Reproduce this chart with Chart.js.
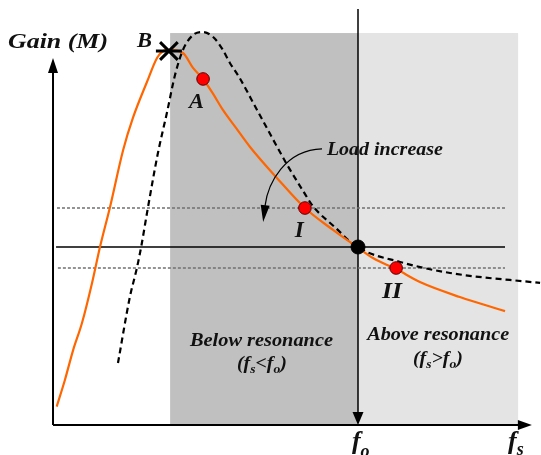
<!DOCTYPE html>
<html>
<head>
<meta charset="utf-8">
<script src="https://cdn.jsdelivr.net/npm/chart.js@4.4.1/dist/chart.umd.min.js"></script>
<style>
  html, body { margin: 0; padding: 0; background: #ffffff; }
  #wrap { width: 541px; height: 455px; position: relative; }
</style>
</head>
<body>
<div id="wrap"><canvas id="c" width="541" height="455"></canvas></div>
<script>
// ---- Data (x = fs/fo, y = gain M) ----
const lightLoadX = [0.012, 0.039, 0.066, 0.095, 0.128, 0.154, 0.187, 0.230, 0.262, 0.308, 0.341, 0.361, 0.377, 0.426, 0.459, 0.492, 0.525, 0.557, 0.600, 0.646, 0.734, 0.826, 0.918, 0.997, 1.049, 1.125, 1.203, 1.334, 1.482];
const lightLoadY = [0.103, 0.253, 0.421, 0.573, 0.798, 1.000, 1.225, 1.545, 1.725, 1.927, 2.062, 2.101, 2.107, 2.090, 2.006, 1.944, 1.860, 1.770, 1.669, 1.562, 1.388, 1.219, 1.096, 1.000, 0.938, 0.876, 0.803, 0.719, 0.640];

const heavyLoadX = [0.213, 0.252, 0.275, 0.289, 0.311, 0.344, 0.374, 0.400, 0.426, 0.459, 0.489, 0.525, 0.557, 0.580, 0.610, 0.669, 0.770, 0.820, 0.852, 0.925, 0.997, 1.138, 1.302, 1.597];
const heavyLoadY = [0.348, 0.719, 0.882, 1.000, 1.219, 1.528, 1.758, 1.966, 2.107, 2.191, 2.208, 2.180, 2.107, 2.034, 1.955, 1.770, 1.455, 1.315, 1.230, 1.110, 1.000, 0.916, 0.854, 0.798];

const operatingPointNames = ['A', 'I', 'II'];
const operatingPointX = [0.492, 0.826, 1.125];
const operatingPointY = [1.944, 1.219, 0.882];

const resonancePoint = [1.0, 1.0];      // (fo, M=1)
const peakPointB = [0.380, 2.101];

const refLevels = [1.219, 1.000, 0.882]; // dotted, solid, dotted
const refLevelStart = [0.013, 0.010, 0.016];
const refLevelEnd = 1.482;

const regionBelow = [0.384, 1.0];   // fs < fo
const regionAbove = [1.0, 1.525];   // fs > fo
const regionTop = 2.202;

const axisXEnd = 1.57;
const axisYEnd = 2.062;
const foLineTop = 2.337;

const textLabels = ['Gain (M)', 'B', 'A', 'I', 'II', 'Load increase', 'Below resonance', 'Above resonance'];

// ---- Build datasets ----
function pts(xs, ys) { return xs.map((x, i) => ({ x: x, y: ys[i] })); }

const orange = '#ff6600';
const datasets = [
  { label: 'points', data: pts(operatingPointX, operatingPointY), showLine: false,
    pointRadius: 6.3, pointBackgroundColor: '#ff0000', pointBorderColor: '#5a0000', pointBorderWidth: 1, order: 0 },
  { label: 'fo', data: [{ x: resonancePoint[0], y: resonancePoint[1] }], showLine: false,
    pointRadius: 7, pointBackgroundColor: '#000', pointBorderColor: '#000', order: 0 },
  { label: 'B1', data: [{ x: peakPointB[0], y: peakPointB[1] }], showLine: false, pointStyle: 'crossRot',
    pointRadius: 12.5, pointBorderColor: '#000', pointBorderWidth: 3, order: 0 },
  { label: 'B2', data: [{ x: peakPointB[0], y: peakPointB[1] }], showLine: false, pointStyle: 'line',
    pointRadius: 13, pointBorderColor: '#000', pointBorderWidth: 3, order: 0 },
  { label: 'light', data: pts(lightLoadX, lightLoadY), showLine: true, borderColor: orange, borderWidth: 2.2,
    pointRadius: 0, cubicInterpolationMode: 'monotone', order: 1 },
  { label: 'heavy', data: pts(heavyLoadX, heavyLoadY), showLine: true, borderColor: '#000', borderWidth: 2.2,
    borderDash: [6, 4], pointRadius: 0, cubicInterpolationMode: 'monotone', order: 1 },
];
refLevels.forEach((lv, i) => {
  datasets.push({
    label: 'lvl' + i, data: [{ x: refLevelStart[i], y: lv }, { x: refLevelEnd, y: lv }], showLine: true,
    borderColor: i === 1 ? '#000' : '#707070', borderWidth: i === 1 ? 1.3 : 1.5,
    borderDash: i === 1 ? [] : [3, 2], pointRadius: 0, order: 2
  });
});

// ---- Plugins ----
const FONT = '"Liberation Serif", "Times New Roman", serif';

function drawFit(ctx, text, x, y, size, targetW) {
  ctx.font = 'italic bold ' + size + 'px ' + FONT;
  const w = ctx.measureText(text).width;
  const sx = targetW ? targetW / w : 1;
  ctx.save(); ctx.translate(x, y); ctx.scale(sx, 1); ctx.fillText(text, 0, 0); ctx.restore();
}
function drawRich(ctx, parts, x, y, targetW) {
  let total = 0;
  parts.forEach(p => { ctx.font = 'italic bold ' + p.s + 'px ' + FONT; p.w = ctx.measureText(p.t).width; total += p.w; });
  const sx = targetW ? targetW / total : 1;
  ctx.save(); ctx.translate(x, y); ctx.scale(sx, 1);
  let cx = 0;
  parts.forEach(p => { ctx.font = 'italic bold ' + p.s + 'px ' + FONT; ctx.fillText(p.t, cx, p.dy || 0); cx += p.w; });
  ctx.restore();
}
function arrowHead(ctx, tipX, tipY, dirX, dirY, len, half) {
  const n = Math.hypot(dirX, dirY); dirX /= n; dirY /= n;
  const bx = tipX - dirX * len, by = tipY - dirY * len;
  ctx.beginPath();
  ctx.moveTo(tipX, tipY);
  ctx.lineTo(bx - dirY * half, by + dirX * half);
  ctx.lineTo(bx + dirY * half, by - dirX * half);
  ctx.closePath(); ctx.fill();
}

const backgroundPlugin = {
  id: 'bg',
  beforeDatasetsDraw(chart) {
    const { ctx, scales: { x, y } } = chart;
    const X = v => x.getPixelForValue(v), Y = v => y.getPixelForValue(v);
    ctx.save();
    ctx.fillStyle = '#c0c0c0';
    ctx.fillRect(X(regionBelow[0]), Y(regionTop), X(regionBelow[1]) - X(regionBelow[0]), Y(0) - Y(regionTop));
    ctx.fillStyle = '#e4e4e4';
    ctx.fillRect(X(regionAbove[0]), Y(regionTop), X(regionAbove[1]) - X(regionAbove[0]), Y(0) - Y(regionTop));
    // fo vertical line with arrow
    ctx.strokeStyle = '#000'; ctx.fillStyle = '#000';
    ctx.lineWidth = 1.5;
    ctx.beginPath(); ctx.moveTo(X(1), Y(foLineTop)); ctx.lineTo(X(1), Y(0) - 10); ctx.stroke();
    arrowHead(ctx, X(1), Y(0), 0, 1, 13, 5.5);
    // axes
    ctx.lineWidth = 2;
    ctx.beginPath(); ctx.moveTo(X(0), Y(0)); ctx.lineTo(X(0), Y(axisYEnd) + 10); ctx.stroke();
    arrowHead(ctx, X(0), Y(axisYEnd), 0, -1, 15, 5);
    ctx.beginPath(); ctx.moveTo(X(0), Y(0)); ctx.lineTo(X(axisXEnd) - 10, Y(0)); ctx.stroke();
    arrowHead(ctx, X(axisXEnd), Y(0), 1, 0, 14, 5);
    ctx.restore();
  },
  afterDatasetsDraw(chart) {
    const { ctx, scales: { x, y } } = chart;
    const X = v => x.getPixelForValue(v), Y = v => y.getPixelForValue(v);
    ctx.save();
    ctx.fillStyle = '#111'; ctx.textBaseline = 'alphabetic'; ctx.textAlign = 'left';
    drawFit(ctx, textLabels[0], X(-0.1475), Y(2.118), 22, 100);
    drawFit(ctx, textLabels[1], X(0.275), Y(2.124), 21, 15);
    drawFit(ctx, textLabels[2], X(0.446), Y(1.781), 21, 15);
    drawFit(ctx, textLabels[3], X(0.793), Y(1.056), 23, 9);
    drawFit(ctx, textLabels[4], X(1.079), Y(0.713), 23, 20);
    drawFit(ctx, textLabels[5], X(0.898), Y(1.517), 19, 116);
    drawFit(ctx, textLabels[6], X(0.449), Y(0.444), 18, 143);
    drawFit(ctx, textLabels[7], X(1.030), Y(0.478), 18, 142);
    drawRich(ctx, [{ t: '(', s: 19 }, { t: 'f', s: 19 }, { t: 's', s: 13, dy: 4 }, { t: '<', s: 19 },
                   { t: 'f', s: 19 }, { t: 'o', s: 13, dy: 4 }, { t: ')', s: 19 }], X(0.603), Y(0.315), 50);
    drawRich(ctx, [{ t: '(', s: 19 }, { t: 'f', s: 19 }, { t: 's', s: 13, dy: 4 }, { t: '>', s: 19 },
                   { t: 'f', s: 19 }, { t: 'o', s: 13, dy: 4 }, { t: ')', s: 19 }], X(1.180), Y(0.343), 50);
    drawRich(ctx, [{ t: 'f', s: 26 }, { t: 'o', s: 18, dy: 8 }], X(0.980), Y(-0.135));
    drawRich(ctx, [{ t: 'f', s: 26 }, { t: 's', s: 18, dy: 6 }], X(1.492), Y(-0.135));
    // Load increase arrow
    ctx.strokeStyle = '#000'; ctx.fillStyle = '#000'; ctx.lineWidth = 1.2;
    ctx.beginPath();
    ctx.moveTo(X(0.882), Y(1.551));
    ctx.bezierCurveTo(X(0.761), Y(1.545), X(0.705), Y(1.360), X(0.695), Y(1.230));
    ctx.stroke();
    arrowHead(ctx, X(0.689), Y(1.140), -0.12, 1, 17, 4.5);
    ctx.restore();
  }
};

new Chart(document.getElementById('c'), {
  type: 'scatter',
  data: { datasets: datasets },
  options: {
    responsive: false,
    animation: false,
    layout: { padding: 0, autoPadding: false },
    plugins: { legend: { display: false }, tooltip: { enabled: false } },
    scales: {
      x: { type: 'linear', display: false, min: -0.1738, max: 1.6 },
      y: { type: 'linear', display: false, min: -0.1685, max: 2.3876 }
    }
  },
  plugins: [backgroundPlugin]
});
</script>
</body>
</html>
